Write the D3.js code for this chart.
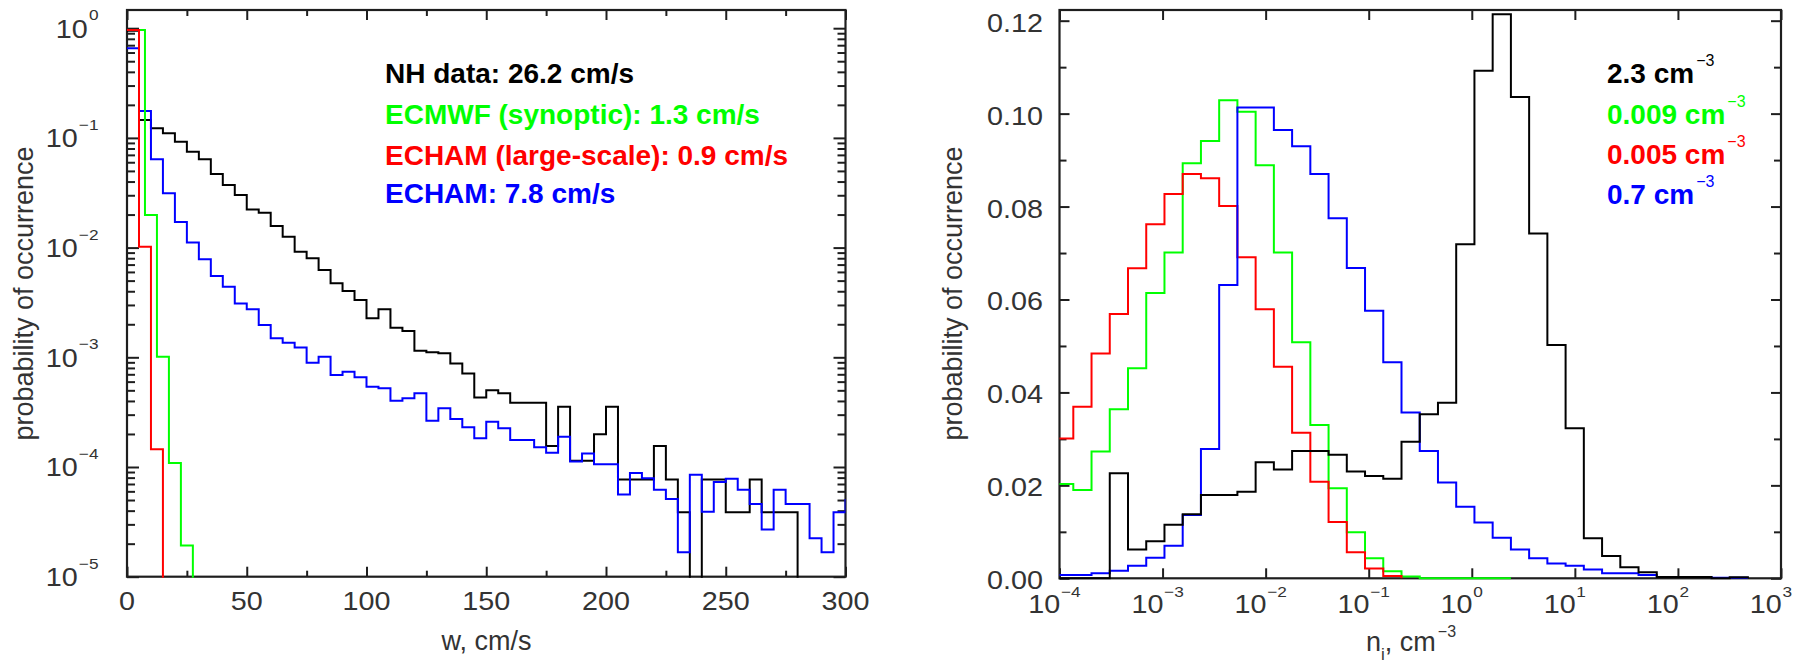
<!DOCTYPE html>
<html>
<head>
<meta charset="utf-8">
<script src="https://cdn.jsdelivr.net/npm/d3@7"></script>
<style>
  html, body { margin: 0; padding: 0; background: #fff; }
  svg text { font-family: "Liberation Sans", Arial, Helvetica, sans-serif; }
</style>
</head>
<body>
<svg id="chart" width="1806" height="663"></svg>
<script>
// ---------- Vertical velocity w (cm/s), 5 cm/s bins ----------
const wBinWidth = 5;
const wNH = [0.95, 0.1455, 0.1223, 0.1102, 0.0922, 0.0748, 0.0638, 0.0469, 0.0372, 0.0302,
  0.0223, 0.0208, 0.0157, 0.01256, 0.00918, 0.00798, 0.00625, 0.00473, 0.00402, 0.00333,
  0.00227, 0.00274, 0.00186, 0.00174, 0.00115, 0.00111, 0.00109, 0.00088, 0.00071, 0.00043,
  0.00050, 0.00047, 0.000385, 0.000385, 0.000385, 0.000155, 0.000355, 0.000114, 0.000114, 0.000199,
  0.000355, 0.000077, 0.000077, 0.000077, 0.000155, 0.000077, 0.0000386, 0, 0.000077, 0.000077,
  0.0000386, 0.0000386, 0.000077, 0.0000386, 0.0000386, 0.0000386, 0, 0, 0, 0];
const wECHAM = [0.656, 0.176, 0.0638, 0.0313, 0.0171, 0.0111, 0.00781, 0.00551, 0.00440, 0.00310,
  0.00274, 0.00197, 0.00149, 0.00136, 0.00123, 0.000893, 0.00101, 0.00069, 0.00074, 0.000657,
  0.000540, 0.000521, 0.000402, 0.000423, 0.000470, 0.000264, 0.000343, 0.000274, 0.000230, 0.000183,
  0.000259, 0.000225, 0.000176, 0.000176, 0.000151, 0.000135, 0.000189, 0.000112, 0.000133, 0.000106,
  0.000106, 0.000056, 0.000088, 0.000079, 0.000062, 0.000051, 0.0000167, 0.000085, 0.000039, 0.000073,
  0.000078, 0.000062, 0.000046, 0.000027, 0.000062, 0.000046, 0.000046, 0.0000224, 0.0000167, 0.0000386,
  0.00005];
const wECMWFEdges = [0, 7.5, 12.5, 17.5, 22.5, 27.5];
const wECMWF = [0.963, 0.0198, 0.00101, 0.000109, 0.0000192];
const wECHAMlsEdges = [0, 5, 10, 15];
const wECHAMls = [0.963, 0.0102, 0.000145];

const wTicksMajor = [0, 50, 100, 150, 200, 250, 300];
const wTicksMinor = [25, 75, 125, 175, 225, 275];
const pDecades = [-5, -4, -3, -2, -1, 0];

// ---------- Ice crystal number n_i (cm^-3), log bins (ratio ~1.5) ----------
const niFirstEdgeLog = -4.043;
const niBinStepLog = 0.1769;
const niNH = [0, 0, 0, 0.0226, 0.0062, 0.0080, 0.0115, 0.0138, 0.0179, 0.0179,
  0.0186, 0.0250, 0.0234, 0.0274, 0.0274, 0.0266, 0.0230, 0.0220, 0.0214, 0.0294,
  0.0353, 0.0378, 0.0719, 0.1092, 0.1214, 0.1036, 0.0742, 0.0502, 0.0323, 0.0086,
  0.0048, 0.0024, 0.0013, 0.0003, 0.0003, 0.0003, 0, 0.0002];
const niECMWF = [0.0203, 0.0190, 0.0273, 0.0364, 0.0452, 0.0614, 0.0701, 0.0893, 0.0941, 0.1029,
  0.1004, 0.0889, 0.0701, 0.0508, 0.0330, 0.0194, 0.0099, 0.0043, 0.0015, 0.0004,
  0, 0, 0, 0, 0];
const niECHAMls = [0.0301, 0.0369, 0.0484, 0.0569, 0.0667, 0.0762, 0.0827, 0.0870, 0.0861, 0.0801,
  0.0691, 0.0579, 0.0455, 0.0313, 0.0208, 0.0121, 0.0056, 0.0021, 0.0005];
const niECHAM = [0.0007, 0.0007, 0.0011, 0.0016, 0.0027, 0.0044, 0.0070, 0.0136, 0.0278, 0.0631,
  0.1013, 0.1013, 0.0965, 0.0930, 0.0870, 0.0775, 0.0668, 0.0576, 0.0465, 0.0357,
  0.0274, 0.0206, 0.0154, 0.0120, 0.0087, 0.0062, 0.0043, 0.0032, 0.0027, 0.0019,
  0.0011, 0.0011, 0.0007, 0.0003, 0.0003, 0.0003, 0.0001, 0.0001];

const fTicksMajor = [0, 0.02, 0.04, 0.06, 0.08, 0.10, 0.12];
const fTicksMinor = [0.01, 0.03, 0.05, 0.07, 0.09, 0.11];
const nDecades = [-4, -3, -2, -1, 0, 1, 2, 3];

const legendW = [
  { text: "NH data: 26.2 cm/s", color: "#000000" },
  { text: "ECMWF (synoptic): 1.3 cm/s", color: "#00ff00" },
  { text: "ECHAM (large-scale): 0.9 cm/s", color: "#ff0000" },
  { text: "ECHAM: 7.8 cm/s", color: "#0000ff" }
];
const legendN = [
  { text: "2.3 cm", color: "#000000" },
  { text: "0.009 cm", color: "#00ff00" },
  { text: "0.005 cm", color: "#ff0000" },
  { text: "0.7 cm", color: "#0000ff" }
];

// ---------- setup ----------
const INK = "#1e1e1e";     // frame and ticks
const TEXT = "#333333";    // axis labels and titles
const svg = d3.select("#chart");

const L = { x0: 127, x1: 845.5, y0: 10, y1: 576.7 };
const R = { x0: 1059.5, x1: 1781, y0: 10, y1: 578.3 };

const xW = d3.scaleLinear().domain([0, 300]).range([L.x0, L.x1]);
const yP = d3.scaleLog().domain([1e-5, 1.465]).range([L.y1, L.y0]);
const xN = d3.scaleLog().domain([1e-4, 1e3]).range([R.x0, R.x1]);
const yF = d3.scaleLinear().domain([0, 0.1223]).range([R.y1, R.y0]);

// step outline of a histogram from bin edges and bin values
function stepPoints(edges, values, dropEnd) {
  const pts = [];
  values.forEach((v, i) => { pts.push([edges[i], v]); pts.push([edges[i + 1], v]); });
  if (dropEnd) pts.push([edges[values.length], 0]);
  return pts;
}
const uniformEdges = n => d3.range(n + 1).map(i => i * wBinWidth);
const niEdges = n => d3.range(n + 1).map(k => Math.pow(10, niFirstEdgeLog + k * niBinStepLog));

function axisStyle(g) {
  g.select(".domain").remove();
  g.attr("color", INK);
  g.selectAll(".tick line").attr("stroke-width", 2);
  g.selectAll(".tick text").remove();
}

// ================= LEFT PANEL =================
const gl = svg.append("g");

// ticks (all pointing inward)
gl.append("g").attr("transform", `translate(0,${L.y1})`)
  .call(d3.axisBottom(xW).tickValues(wTicksMajor).tickSize(-10)).call(axisStyle);
gl.append("g").attr("transform", `translate(0,${L.y1})`)
  .call(d3.axisBottom(xW).tickValues(wTicksMinor).tickSize(-6)).call(axisStyle);
gl.append("g").attr("transform", `translate(0,${L.y0})`)
  .call(d3.axisTop(xW).tickValues(wTicksMajor).tickSize(-10)).call(axisStyle);
gl.append("g").attr("transform", `translate(0,${L.y0})`)
  .call(d3.axisTop(xW).tickValues(wTicksMinor).tickSize(-6)).call(axisStyle);

const pMajor = pDecades.map(e => Math.pow(10, e));
const pMinor = [];
pDecades.forEach(e => d3.range(2, 10).forEach(m => {
  const v = m * Math.pow(10, e);
  if (v <= yP.domain()[1]) pMinor.push(v);
}));
gl.append("g").attr("transform", `translate(${L.x0},0)`)
  .call(d3.axisLeft(yP).tickValues(pMajor).tickSize(-12)).call(axisStyle);
gl.append("g").attr("transform", `translate(${L.x0},0)`)
  .call(d3.axisLeft(yP).tickValues(pMinor).tickSize(-8)).call(axisStyle);
gl.append("g").attr("transform", `translate(${L.x1},0)`)
  .call(d3.axisRight(yP).tickValues(pMajor).tickSize(-12)).call(axisStyle);
gl.append("g").attr("transform", `translate(${L.x1},0)`)
  .call(d3.axisRight(yP).tickValues(pMinor).tickSize(-8)).call(axisStyle);

// frame
gl.append("rect").attr("x", L.x0).attr("y", L.y0)
  .attr("width", L.x1 - L.x0).attr("height", L.y1 - L.y0)
  .attr("fill", "none").attr("stroke", INK).attr("stroke-width", 2.2);

// tick labels
wTicksMajor.forEach(v => {
  gl.append("text").attr("transform", `translate(${xW(v)},610) scale(1.15,1)`)
    .attr("text-anchor", "middle").attr("font-size", 25).attr("fill", TEXT).text(v);
});
pDecades.forEach(e => {
  const t = gl.append("text").attr("transform", `translate(98.5,${yP(Math.pow(10, e)) + 9.5}) scale(1.15,1)`)
    .attr("text-anchor", "end").attr("font-size", 25).attr("fill", TEXT);
  t.append("tspan").text("10");
  t.append("tspan").attr("dy", -17.5).attr("dx", 1).attr("font-size", 15)
    .text(e === 0 ? "0" : "\u2212" + (-e));
});

// titles
gl.append("text").attr("transform", "translate(33,293.5) rotate(-90)")
  .attr("text-anchor", "middle").attr("font-size", 27).attr("fill", TEXT)
  .text("probability of occurrence");
gl.append("text").attr("x", 486.5).attr("y", 650)
  .attr("text-anchor", "middle").attr("font-size", 27).attr("fill", TEXT)
  .text("w, cm/s");

// histograms
gl.append("clipPath").attr("id", "clipL").append("rect")
  .attr("x", L.x0).attr("y", L.y0).attr("width", L.x1 - L.x0).attr("height", L.y1 - L.y0 + 1);
const lineL = d3.line()
  .x(d => xW(d[0]))
  .y(d => d[1] > 0 ? yP(d[1]) : L.y1 + 20);
const dataL = gl.append("g").attr("clip-path", "url(#clipL)")
  .attr("fill", "none").attr("stroke-width", 2).attr("stroke-linejoin", "miter");
dataL.append("path").attr("stroke", "#000000")
  .attr("d", lineL(stepPoints(uniformEdges(wNH.length), wNH, true)));
dataL.append("path").attr("stroke", "#0000ff")
  .attr("d", lineL(stepPoints(uniformEdges(wECHAM.length), wECHAM, false)));
dataL.append("path").attr("stroke", "#00ff00")
  .attr("d", lineL(stepPoints(wECMWFEdges, wECMWF, true)));
dataL.append("path").attr("stroke", "#ff0000")
  .attr("d", lineL(stepPoints(wECHAMlsEdges, wECHAMls, true)));

// legend
legendW.forEach((d, i) => {
  gl.append("text").attr("x", 385).attr("y", [83, 124, 165, 203][i])
    .attr("font-size", 28).attr("font-weight", "bold").attr("fill", d.color).text(d.text);
});

// ================= RIGHT PANEL =================
const gr = svg.append("g");

const nMajor = nDecades.map(e => Math.pow(10, e));
gr.append("g").attr("transform", `translate(0,${R.y1})`)
  .call(d3.axisBottom(xN).tickValues(nMajor).tickSize(-10)).call(axisStyle);
gr.append("g").attr("transform", `translate(0,${R.y0})`)
  .call(d3.axisTop(xN).tickValues(nMajor).tickSize(-10)).call(axisStyle);
gr.append("g").attr("transform", `translate(${R.x0},0)`)
  .call(d3.axisLeft(yF).tickValues(fTicksMajor).tickSize(-10)).call(axisStyle);
gr.append("g").attr("transform", `translate(${R.x0},0)`)
  .call(d3.axisLeft(yF).tickValues(fTicksMinor).tickSize(-7)).call(axisStyle);
gr.append("g").attr("transform", `translate(${R.x1},0)`)
  .call(d3.axisRight(yF).tickValues(fTicksMajor).tickSize(-10)).call(axisStyle);
gr.append("g").attr("transform", `translate(${R.x1},0)`)
  .call(d3.axisRight(yF).tickValues(fTicksMinor).tickSize(-7)).call(axisStyle);

gr.append("rect").attr("x", R.x0).attr("y", R.y0)
  .attr("width", R.x1 - R.x0).attr("height", R.y1 - R.y0)
  .attr("fill", "none").attr("stroke", INK).attr("stroke-width", 2.2);

const fmt = d3.format(".2f");
fTicksMajor.forEach(v => {
  gr.append("text").attr("transform", `translate(1043,${yF(v) + 11}) scale(1.15,1)`)
    .attr("text-anchor", "end").attr("font-size", 25).attr("fill", TEXT).text(fmt(v));
});
nDecades.forEach(e => {
  const x = xN(Math.pow(10, e));
  gr.append("text").attr("transform", `translate(${x + 0.8},613) scale(1.15,1)`)
    .attr("text-anchor", "end").attr("font-size", 25).attr("fill", TEXT).text("10");
  gr.append("text").attr("transform", `translate(${x + 1.5},597) scale(1.15,1)`)
    .attr("text-anchor", "start").attr("font-size", 15).attr("fill", TEXT)
    .text(e < 0 ? "\u2212" + (-e) : String(e));
});

gr.append("text").attr("transform", "translate(962,293.5) rotate(-90)")
  .attr("text-anchor", "middle").attr("font-size", 27).attr("fill", TEXT)
  .text("probability of occurrence");
const xt = gr.append("text").attr("x", 1366).attr("y", 651)
  .attr("font-size", 27).attr("fill", TEXT);
xt.append("tspan").text("n");
xt.append("tspan").attr("dy", 9).attr("font-size", 17).text("i");
xt.append("tspan").attr("dy", -9).text(", cm");
xt.append("tspan").attr("dy", -14).attr("dx", 2).attr("font-size", 16).text("\u22123");

gr.append("clipPath").attr("id", "clipR").append("rect")
  .attr("x", R.x0).attr("y", R.y0).attr("width", R.x1 - R.x0).attr("height", R.y1 - R.y0 + 1.5);
const lineR = d3.line().x(d => xN(d[0])).y(d => yF(d[1]));
const dataR = gr.append("g").attr("clip-path", "url(#clipR)")
  .attr("fill", "none").attr("stroke-width", 2).attr("stroke-linejoin", "miter");
dataR.append("path").attr("stroke", "#00ff00")
  .attr("d", lineR(stepPoints(niEdges(niECMWF.length), niECMWF, false)));
dataR.append("path").attr("stroke", "#ff0000")
  .attr("d", lineR(stepPoints(niEdges(niECHAMls.length), niECHAMls, true)));
dataR.append("path").attr("stroke", "#0000ff")
  .attr("d", lineR(stepPoints(niEdges(niECHAM.length), niECHAM, false)));
dataR.append("path").attr("stroke", "#000000")
  .attr("d", lineR(stepPoints(niEdges(niNH.length), niNH, true)));

legendN.forEach((d, i) => {
  const t = gr.append("text").attr("x", 1607).attr("y", [83, 124, 164, 204][i])
    .attr("font-size", 28).attr("font-weight", "bold").attr("fill", d.color);
  t.append("tspan").text(d.text);
  t.append("tspan").attr("dy", -17).attr("dx", 2).attr("font-size", 16)
    .attr("font-weight", "normal").text("\u22123");
});
</script>
</body>
</html>
